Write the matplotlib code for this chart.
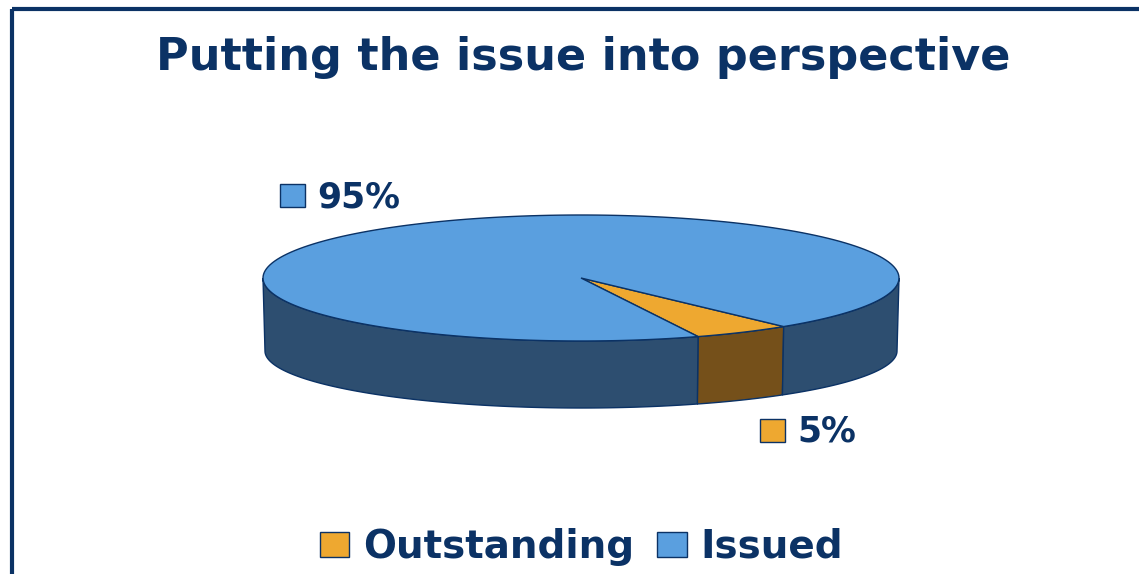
import numpy as np
import matplotlib.pyplot as plt
from matplotlib.patches import Polygon, Rectangle, Patch

# data
categories = ['Outstanding', 'Issued']
shares = [5, 95]
top_colors = ['#EEA830', '#5A9FDF']
side_colors = ['#75501A', '#2D4E70']
navy = '#0B3265'
title = 'Putting the issue into perspective'

W, H = 1139, 574
fig = plt.figure(figsize=(W / 100, H / 100), dpi=100)
ax = fig.add_axes([0, 0, 1, 1])
ax.set_xlim(0, W)
ax.set_ylim(H, 0)
ax.axis('off')

# frame line (top and left only, rest runs off the picture)
ax.add_patch(Rectangle((12, 9), W + 20, H + 20, fill=False, ec=navy, lw=3, zorder=0))

# pie geometry in pixels
cx, cy = 581, 278
rx, ry = 318, 63
rx_b, ry_b, drop = 316, 57, 73
start = -68.4


def top_arc(a, b):
    t = np.radians(np.linspace(a, b, 200))
    return np.column_stack([cx + rx * np.cos(t), cy - ry * np.sin(t)])


def bottom_arc(a, b):
    t = np.radians(np.linspace(a, b, 200))
    return np.column_stack([cx + rx_b * np.cos(t), cy + drop - ry_b * np.sin(t)])


angles = start + 360 * np.concatenate([[0], np.cumsum(shares)]) / sum(shares)

for i in range(len(shares)):
    a, b = angles[i], angles[i + 1]
    # front side walls (visible between 180 and 360 degrees)
    for lo, hi in [(-180, 0), (180, 360)]:
        s, e = max(a, lo), min(b, hi)
        if e > s:
            pts = np.vstack([top_arc(s, e), bottom_arc(e, s)])
            ax.add_patch(Polygon(pts, closed=True, fc=side_colors[i], ec=navy, lw=1, zorder=1))
    # top face
    pts = np.vstack([[cx, cy], top_arc(a, b)])
    ax.add_patch(Polygon(pts, closed=True, fc=top_colors[i], ec=navy, lw=1, zorder=2))

# data labels with legend keys
key_xy = [(760, 419), (280, 184)]
for i, (kx, ky) in enumerate(key_xy):
    ax.add_patch(Rectangle((kx, ky), 25, 23, fc=top_colors[i], ec=navy, lw=1, zorder=3))
    ax.text(kx + 37, ky + 23, f'{shares[i]}%', ha='left', va='baseline',
            fontsize=25, fontweight='bold', color=navy)

fig.text(583 / W, 1 - 70 / H, title, ha='center', va='baseline',
         fontsize=32, fontweight='bold', color=navy)

handles = [Patch(fc=top_colors[i], ec=navy, lw=1) for i in range(len(categories))]
fig.legend(handles, categories, ncol=2, loc='center', bbox_to_anchor=(581.5 / W, 1 - 547 / H),
           frameon=False, prop=dict(weight='bold', size=28), labelcolor=navy,
           handlelength=0.75, handleheight=0.6, handletextpad=0.35, columnspacing=0.6,
           borderpad=0)

fig.savefig('out.png', dpi=100)
